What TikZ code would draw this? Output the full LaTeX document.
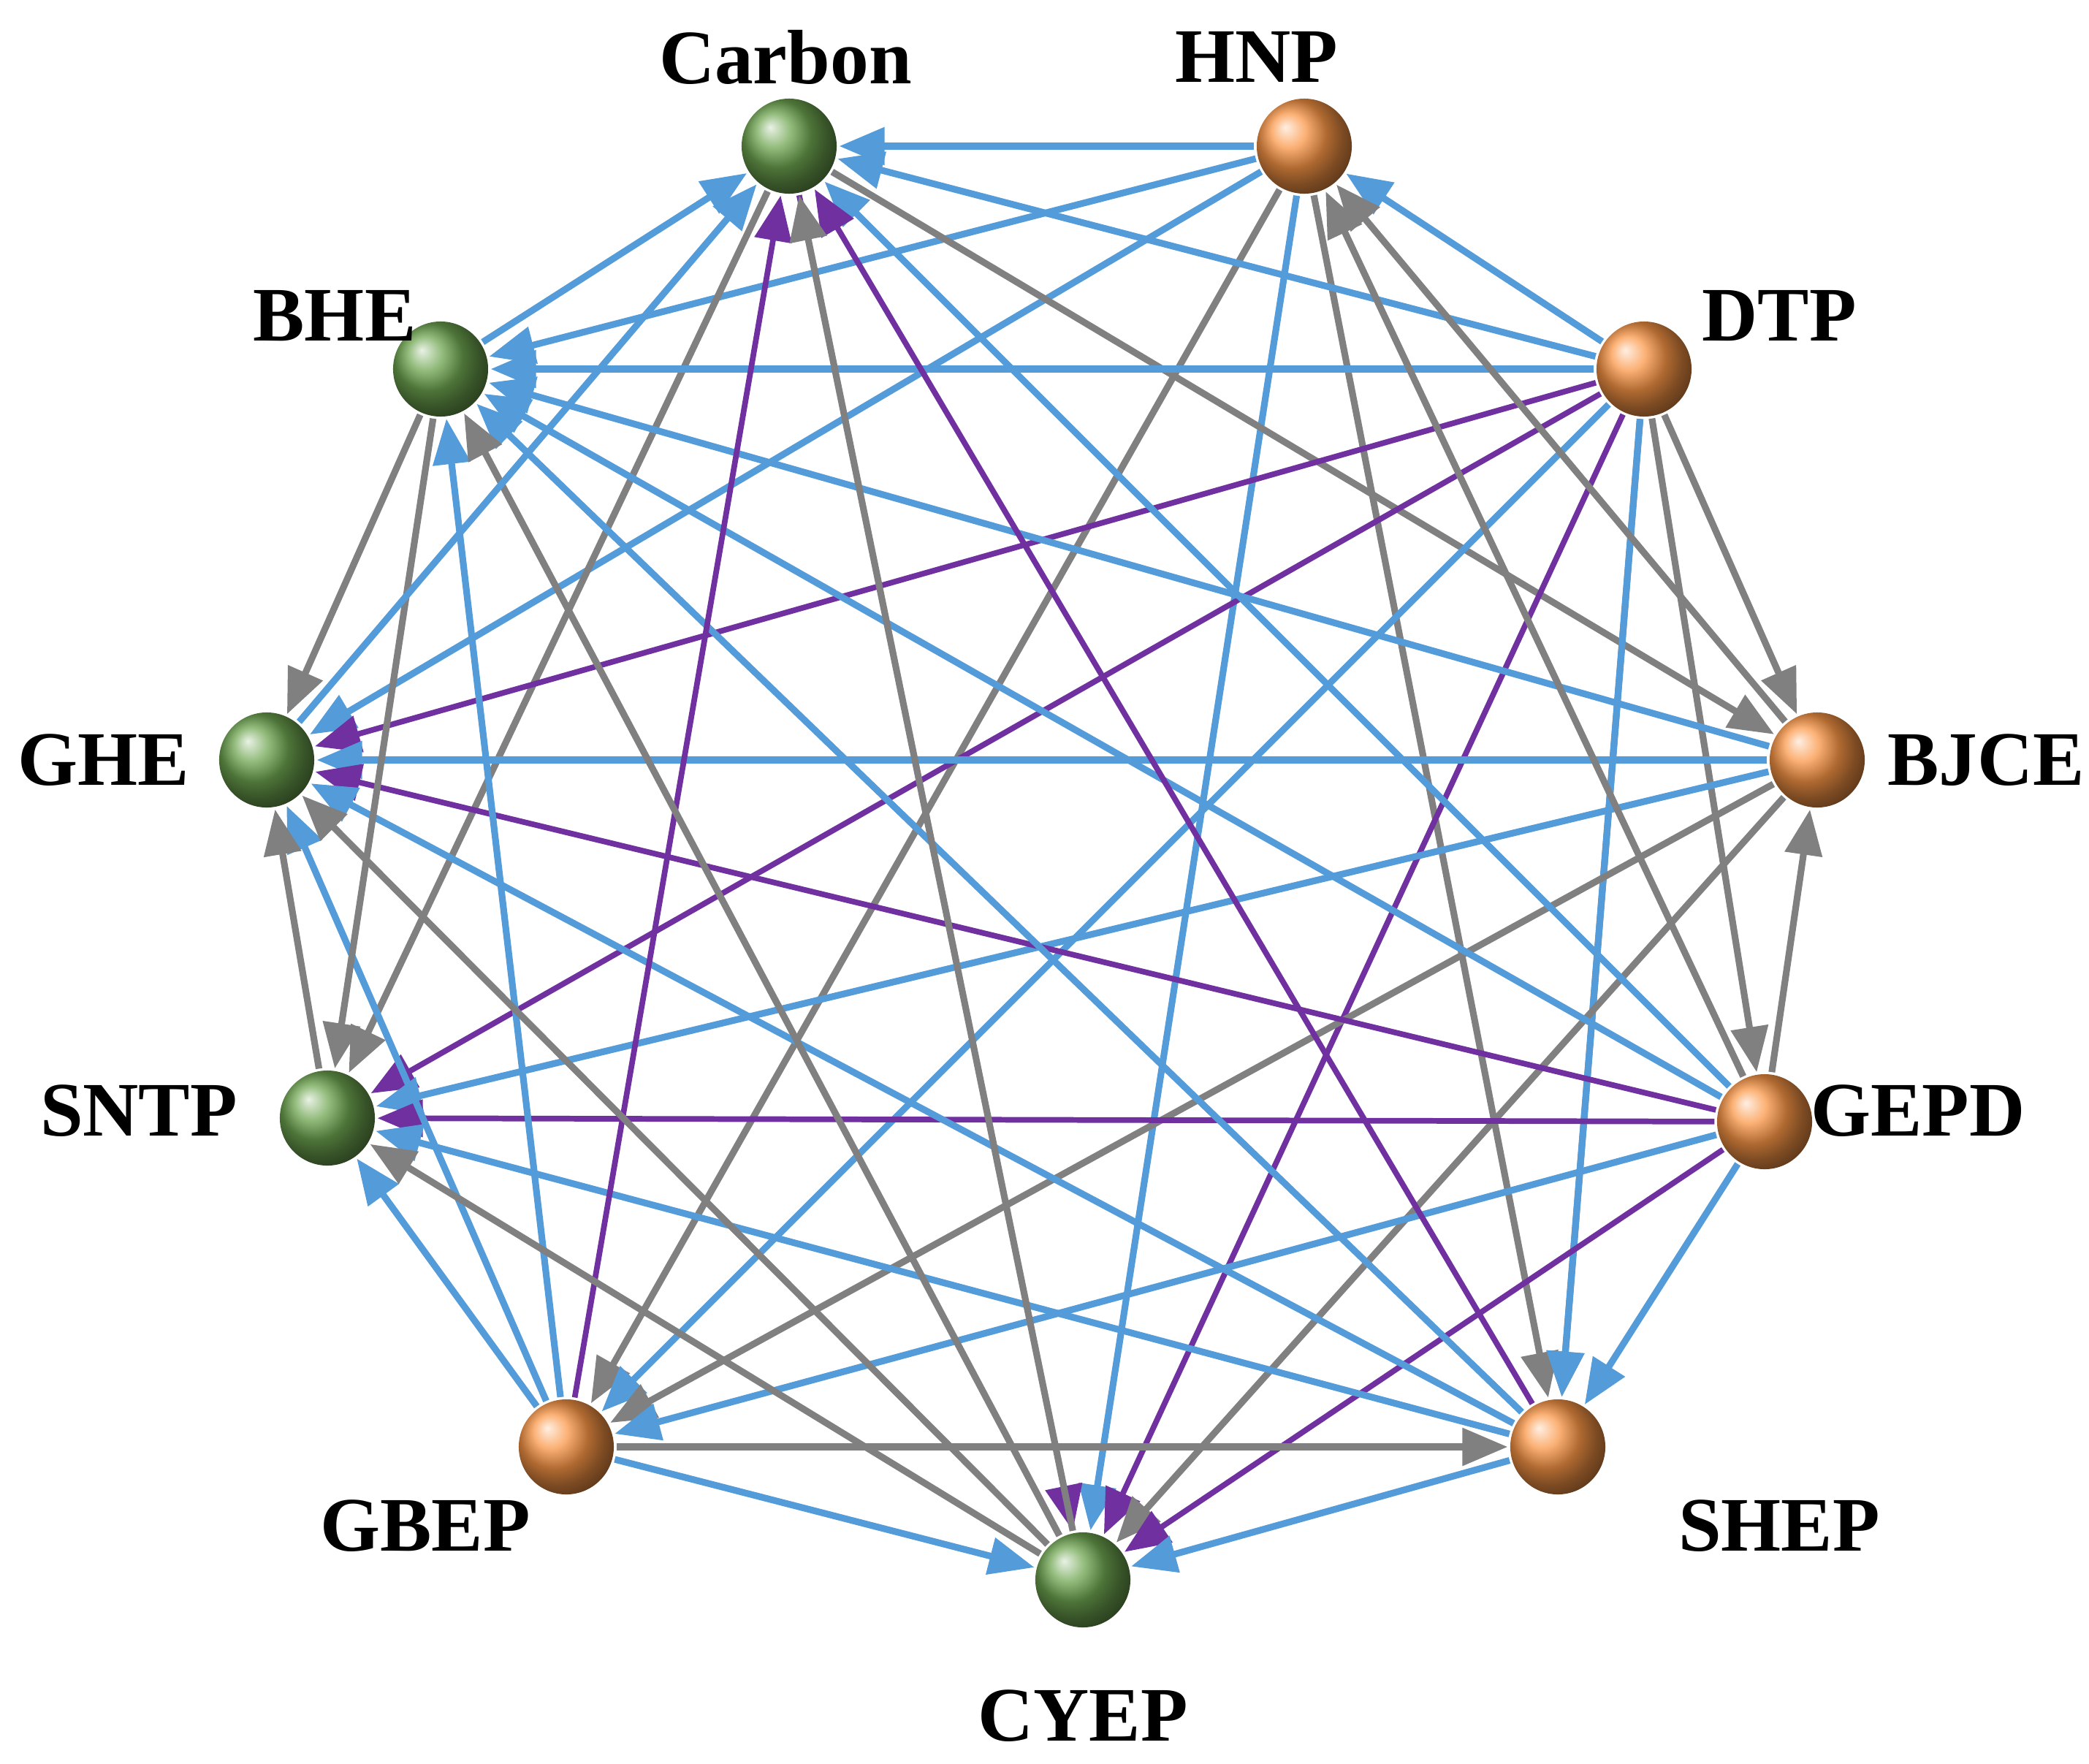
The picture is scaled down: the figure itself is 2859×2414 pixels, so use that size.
\documentclass[tikz,border=0pt]{standalone}
\usepackage{fontspec}
\setmainfont{Liberation Serif}
\usetikzlibrary{arrows.meta}
\pgfdeclarelayer{bg}
\pgfsetlayers{bg,main}
\definecolor{eblue}{RGB}{84,155,217}
\definecolor{egray}{RGB}{128,128,128}
\definecolor{epurp}{RGB}{112,48,160}
\definecolor{gball}{RGB}{110,165,80}
\definecolor{oball}{RGB}{250,150,70}
\tikzset{
  ball/.style={circle,minimum size=1.3cm,inner sep=0pt,outer sep=1pt,shading=ball},
  gn/.style={ball,ball color=gball},
  on/.style={ball,ball color=oball},
  lab/.style={font=\fontsize{30}{36}\selectfont\bfseries},
  e/.style={line width=2.6pt,-{Triangle[length=0.62cm,width=0.5cm]}},
  b/.style={e,eblue},
  g/.style={e,egray},
  p/.style={e,epurp,line width=2.2pt},
}
\begin{document}
\begin{tikzpicture}[x=0.01cm,y=-0.01cm]
\useasboundingbox (0,0) rectangle (2859,2414);
\node[gn] (C) at (1080,200) {};
\node[on] (H) at (1785,200) {};
\node[on] (D) at (2250,505) {};
\node[on] (J) at (2487,1040) {};
\node[on] (G) at (2415,1535) {};
\node[on] (S) at (2132,1980) {};
\node[gn] (Y) at (1482,2162) {};
\node[on] (B) at (775,1980) {};
\node[gn] (N) at (448,1530) {};
\node[gn] (E) at (365,1040) {};
\node[gn] (A) at (603,505) {};
\node[lab] at (1075,78) {Carbon};
\node[lab] at (1720,78) {HNP};
\node[lab] at (2435,432) {DTP};
\node[lab] at (2718,1040) {BJCE};
\node[lab] at (2625,1520) {GEPD};
\node[lab] at (2435,2088) {SHEP};
\node[lab] at (1482,2348) {CYEP};
\node[lab] at (582,2088) {GBEP};
\node[lab] at (190,1520) {SNTP};
\node[lab] at (142,1040) {GHE};
\node[lab] at (458,432) {BHE};
\begin{pgfonlayer}{bg}
% HNP
\draw[b] (H)--(C); \draw[b] (H)--(A); \draw[b] (H)--(E); \draw[b] (H)--(Y);
\draw[g] (H)--(B); \draw[g] (H)--(S);
% Carbon
\draw[g] (C)--(N); \draw[g] (C)--(J); \draw[p] (C)--(Y);
% DTP
\draw[b] (D)--(H); \draw[b] (D)--(C); \draw[b] (D)--(A);
\draw[p] (D)--(E); \draw[p] (D)--(N); \draw[p] (D)--(Y);
\draw[g] (D)--(J); \draw[g] (D)--(G); \draw[g] (D)--(S);
\draw[b] (D)--(B); \draw[b] (D)--(S);
% BJCE
\draw[b] (J)--(E); \draw[b] (J)--(A); \draw[b] (J)--(N);
\draw[g] (J)--(B); \draw[g] (J)--(Y); \draw[g] (J)--(H);
% GEPD
\draw[p] (G)--(E); \draw[p] (G)--(N); \draw[p] (G)--(Y);
\draw[b] (G)--(S); \draw[b] (G)--(B); \draw[b] (G)--(C); \draw[b] (G)--(A);
\draw[g] (G)--(J); \draw[g] (G)--(H);
% SHEP
\draw[p] (S)--(C); \draw[b] (S)--(E); \draw[b] (S)--(N); \draw[b] (S)--(A); \draw[b] (S)--(Y);
% GBEP
\draw[p] (B)--(C); \draw[b] (B)--(A); \draw[b] (B)--(E); \draw[b] (B)--(N);
\draw[g] (B)--(S); \draw[b] (B)--(Y);
% CYEP
\draw[g] (Y)--(C); \draw[g] (Y)--(A); \draw[g] (Y)--(E); \draw[g] (Y)--(N);
% greens
\draw[g] (A)--(E); \draw[g] (A)--(N); \draw[g] (N)--(E);
\draw[b] (A)--(C); \draw[b] (E)--(C);
\end{pgfonlayer}
\end{tikzpicture}
\end{document}
